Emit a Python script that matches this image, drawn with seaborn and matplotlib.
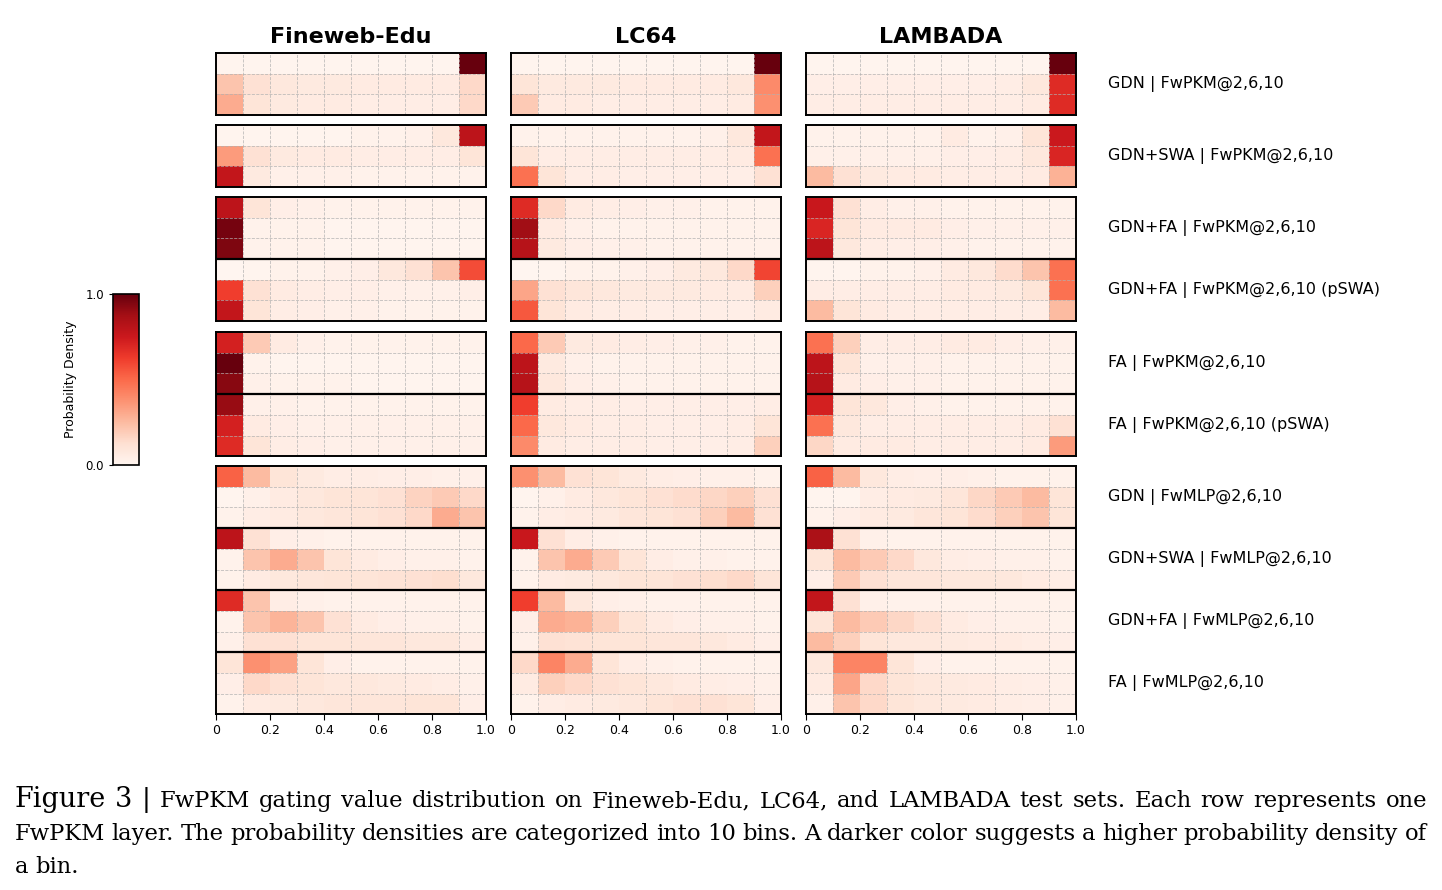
import numpy as np
import pandas as pd
import seaborn as sns
import matplotlib as mpl
import matplotlib.pyplot as plt

datasets = ['Fineweb-Edu', 'LC64', 'LAMBADA']
bin_ticks = ['0', '0.2', '0.4', '0.6', '0.8', '1.0']
layers = ['L2', 'L6', 'L10']
group_labels = [
    'GDN | FwPKM@2,6,10',
    'GDN+SWA | FwPKM@2,6,10',
    'GDN+FA | FwPKM@2,6,10',
    'GDN+FA | FwPKM@2,6,10 (pSWA)',
    'FA | FwPKM@2,6,10',
    'FA | FwPKM@2,6,10 (pSWA)',
    'GDN | FwMLP@2,6,10',
    'GDN+SWA | FwMLP@2,6,10',
    'GDN+FA | FwMLP@2,6,10',
    'FA | FwMLP@2,6,10',
]
# which groups share one panel
blocks = [[0], [1], [2, 3], [4, 5], [6, 7, 8, 9]]

# probability density per bin, 3 rows (layers 2, 6, 10) per group
fineweb = [
    # GDN | FwPKM
    [0.01, 0.01, 0.01, 0.01, 0.01, 0.01, 0.01, 0.01, 0.01, 1.00],
    [0.22, 0.12, 0.08, 0.07, 0.07, 0.06, 0.06, 0.06, 0.06, 0.15],
    [0.30, 0.10, 0.07, 0.06, 0.06, 0.05, 0.05, 0.05, 0.05, 0.15],
    # GDN+SWA | FwPKM
    [0.01, 0.01, 0.01, 0.01, 0.01, 0.02, 0.02, 0.03, 0.08, 0.80],
    [0.35, 0.12, 0.07, 0.06, 0.06, 0.05, 0.05, 0.05, 0.05, 0.10],
    [0.78, 0.07, 0.03, 0.03, 0.03, 0.02, 0.02, 0.02, 0.02, 0.02],
    # GDN+FA | FwPKM
    [0.80, 0.10, 0.04, 0.03, 0.02, 0.02, 0.02, 0.02, 0.02, 0.02],
    [0.97, 0.02, 0.02, 0.02, 0.01, 0.01, 0.01, 0.01, 0.01, 0.01],
    [0.95, 0.02, 0.02, 0.02, 0.01, 0.01, 0.01, 0.01, 0.01, 0.01],
    # GDN+FA | FwPKM (pSWA)
    [0.00, 0.01, 0.02, 0.02, 0.03, 0.04, 0.08, 0.12, 0.22, 0.58],
    [0.62, 0.12, 0.06, 0.05, 0.04, 0.04, 0.03, 0.03, 0.03, 0.04],
    [0.78, 0.10, 0.05, 0.04, 0.03, 0.03, 0.02, 0.02, 0.02, 0.02],
    # FA | FwPKM
    [0.72, 0.20, 0.06, 0.03, 0.02, 0.02, 0.02, 0.02, 0.02, 0.02],
    [1.00, 0.02, 0.01, 0.01, 0.01, 0.01, 0.01, 0.01, 0.01, 0.01],
    [0.93, 0.03, 0.02, 0.02, 0.02, 0.01, 0.01, 0.01, 0.01, 0.01],
    # FA | FwPKM (pSWA)
    [0.90, 0.03, 0.03, 0.02, 0.02, 0.02, 0.02, 0.02, 0.02, 0.02],
    [0.72, 0.06, 0.04, 0.03, 0.03, 0.03, 0.03, 0.03, 0.03, 0.03],
    [0.68, 0.10, 0.05, 0.04, 0.03, 0.03, 0.03, 0.03, 0.03, 0.03],
    # GDN | FwMLP
    [0.52, 0.25, 0.10, 0.07, 0.05, 0.05, 0.04, 0.04, 0.03, 0.03],
    [0.01, 0.03, 0.06, 0.08, 0.10, 0.10, 0.12, 0.17, 0.20, 0.15],
    [0.02, 0.05, 0.06, 0.08, 0.09, 0.10, 0.12, 0.15, 0.30, 0.22],
    # GDN+SWA | FwMLP
    [0.80, 0.12, 0.04, 0.03, 0.02, 0.02, 0.02, 0.02, 0.02, 0.02],
    [0.02, 0.22, 0.30, 0.22, 0.10, 0.06, 0.04, 0.03, 0.03, 0.02],
    [0.02, 0.06, 0.08, 0.09, 0.10, 0.10, 0.11, 0.12, 0.13, 0.08],
    # GDN+FA | FwMLP
    [0.68, 0.22, 0.05, 0.03, 0.02, 0.02, 0.02, 0.02, 0.02, 0.02],
    [0.02, 0.22, 0.27, 0.22, 0.12, 0.06, 0.04, 0.03, 0.03, 0.02],
    [0.03, 0.12, 0.12, 0.10, 0.10, 0.09, 0.09, 0.08, 0.08, 0.05],
    # FA | FwMLP
    [0.10, 0.38, 0.33, 0.10, 0.04, 0.02, 0.02, 0.02, 0.02, 0.02],
    [0.04, 0.15, 0.12, 0.10, 0.08, 0.08, 0.07, 0.06, 0.05, 0.03],
    [0.02, 0.06, 0.07, 0.08, 0.09, 0.09, 0.09, 0.10, 0.10, 0.04],
]

lc64 = [
    [0.01, 0.01, 0.01, 0.01, 0.01, 0.01, 0.01, 0.01, 0.01, 1.00],
    [0.10, 0.07, 0.07, 0.07, 0.06, 0.06, 0.06, 0.06, 0.08, 0.40],
    [0.20, 0.06, 0.06, 0.05, 0.05, 0.05, 0.05, 0.05, 0.06, 0.38],
    [0.02, 0.02, 0.02, 0.02, 0.02, 0.02, 0.02, 0.03, 0.08, 0.78],
    [0.10, 0.05, 0.05, 0.05, 0.05, 0.05, 0.05, 0.05, 0.06, 0.48],
    [0.48, 0.10, 0.05, 0.05, 0.04, 0.04, 0.04, 0.04, 0.04, 0.12],
    [0.68, 0.15, 0.06, 0.05, 0.04, 0.03, 0.03, 0.02, 0.02, 0.02],
    [0.88, 0.06, 0.03, 0.02, 0.02, 0.02, 0.02, 0.02, 0.02, 0.02],
    [0.82, 0.07, 0.04, 0.03, 0.03, 0.02, 0.02, 0.02, 0.02, 0.02],
    [0.00, 0.01, 0.02, 0.02, 0.03, 0.04, 0.07, 0.08, 0.15, 0.60],
    [0.32, 0.12, 0.09, 0.08, 0.07, 0.07, 0.07, 0.06, 0.06, 0.18],
    [0.55, 0.10, 0.06, 0.05, 0.05, 0.04, 0.04, 0.04, 0.04, 0.06],
    [0.50, 0.20, 0.07, 0.06, 0.05, 0.04, 0.03, 0.03, 0.02, 0.02],
    [0.80, 0.07, 0.03, 0.02, 0.02, 0.02, 0.02, 0.02, 0.02, 0.02],
    [0.82, 0.08, 0.04, 0.03, 0.02, 0.02, 0.02, 0.02, 0.02, 0.02],
    [0.62, 0.06, 0.05, 0.05, 0.04, 0.04, 0.04, 0.04, 0.04, 0.05],
    [0.50, 0.08, 0.06, 0.05, 0.05, 0.04, 0.04, 0.04, 0.05, 0.10],
    [0.40, 0.06, 0.05, 0.05, 0.05, 0.04, 0.04, 0.04, 0.05, 0.18],
    [0.38, 0.25, 0.12, 0.10, 0.07, 0.05, 0.04, 0.03, 0.03, 0.02],
    [0.01, 0.03, 0.06, 0.08, 0.10, 0.12, 0.14, 0.16, 0.18, 0.12],
    [0.02, 0.05, 0.06, 0.07, 0.09, 0.10, 0.12, 0.18, 0.25, 0.12],
    [0.76, 0.12, 0.05, 0.03, 0.02, 0.02, 0.02, 0.02, 0.02, 0.02],
    [0.02, 0.22, 0.30, 0.20, 0.10, 0.05, 0.03, 0.03, 0.02, 0.02],
    [0.02, 0.06, 0.07, 0.08, 0.10, 0.10, 0.12, 0.13, 0.15, 0.10],
    [0.62, 0.25, 0.08, 0.04, 0.03, 0.02, 0.02, 0.02, 0.02, 0.02],
    [0.04, 0.30, 0.28, 0.18, 0.10, 0.06, 0.04, 0.03, 0.03, 0.02],
    [0.03, 0.12, 0.11, 0.10, 0.10, 0.09, 0.09, 0.08, 0.06, 0.04],
    [0.15, 0.42, 0.30, 0.10, 0.05, 0.03, 0.02, 0.02, 0.02, 0.02],
    [0.06, 0.18, 0.15, 0.12, 0.10, 0.08, 0.06, 0.05, 0.04, 0.03],
    [0.02, 0.05, 0.06, 0.07, 0.08, 0.10, 0.12, 0.12, 0.10, 0.04],
]

lambada = [
    [0.01, 0.01, 0.01, 0.01, 0.01, 0.01, 0.01, 0.01, 0.01, 1.00],
    [0.04, 0.04, 0.04, 0.04, 0.04, 0.04, 0.04, 0.05, 0.08, 0.68],
    [0.05, 0.05, 0.05, 0.05, 0.05, 0.05, 0.05, 0.05, 0.06, 0.68],
    [0.02, 0.02, 0.02, 0.02, 0.02, 0.06, 0.02, 0.03, 0.10, 0.75],
    [0.03, 0.03, 0.03, 0.03, 0.03, 0.04, 0.04, 0.05, 0.08, 0.70],
    [0.25, 0.12, 0.07, 0.06, 0.06, 0.05, 0.05, 0.05, 0.06, 0.28],
    [0.76, 0.12, 0.05, 0.03, 0.03, 0.02, 0.02, 0.02, 0.02, 0.02],
    [0.70, 0.10, 0.06, 0.06, 0.06, 0.04, 0.03, 0.03, 0.03, 0.03],
    [0.80, 0.08, 0.05, 0.04, 0.04, 0.03, 0.02, 0.02, 0.02, 0.02],
    [0.01, 0.01, 0.02, 0.02, 0.03, 0.06, 0.08, 0.14, 0.22, 0.48],
    [0.05, 0.05, 0.05, 0.05, 0.05, 0.06, 0.06, 0.07, 0.10, 0.48],
    [0.25, 0.10, 0.06, 0.05, 0.05, 0.05, 0.05, 0.05, 0.05, 0.25],
    [0.48, 0.18, 0.05, 0.05, 0.05, 0.06, 0.06, 0.04, 0.03, 0.03],
    [0.80, 0.10, 0.03, 0.03, 0.03, 0.02, 0.02, 0.02, 0.02, 0.02],
    [0.82, 0.06, 0.04, 0.03, 0.03, 0.02, 0.02, 0.02, 0.02, 0.02],
    [0.72, 0.10, 0.08, 0.04, 0.03, 0.02, 0.02, 0.02, 0.02, 0.02],
    [0.48, 0.08, 0.05, 0.05, 0.05, 0.05, 0.05, 0.05, 0.06, 0.12],
    [0.16, 0.06, 0.06, 0.06, 0.05, 0.05, 0.05, 0.05, 0.06, 0.35],
    [0.52, 0.25, 0.08, 0.05, 0.04, 0.04, 0.03, 0.02, 0.02, 0.02],
    [0.01, 0.01, 0.05, 0.06, 0.07, 0.09, 0.16, 0.20, 0.25, 0.10],
    [0.02, 0.04, 0.06, 0.07, 0.09, 0.10, 0.14, 0.18, 0.22, 0.10],
    [0.85, 0.12, 0.03, 0.02, 0.02, 0.02, 0.02, 0.02, 0.02, 0.02],
    [0.10, 0.25, 0.20, 0.15, 0.08, 0.05, 0.04, 0.03, 0.03, 0.02],
    [0.04, 0.20, 0.12, 0.09, 0.09, 0.08, 0.08, 0.08, 0.06, 0.05],
    [0.78, 0.12, 0.03, 0.02, 0.02, 0.02, 0.02, 0.02, 0.02, 0.02],
    [0.10, 0.25, 0.20, 0.16, 0.12, 0.06, 0.04, 0.03, 0.03, 0.02],
    [0.25, 0.18, 0.10, 0.08, 0.08, 0.07, 0.06, 0.06, 0.05, 0.04],
    [0.08, 0.42, 0.42, 0.10, 0.04, 0.02, 0.02, 0.02, 0.02, 0.02],
    [0.06, 0.32, 0.15, 0.10, 0.08, 0.07, 0.06, 0.05, 0.04, 0.03],
    [0.03, 0.22, 0.15, 0.10, 0.08, 0.07, 0.06, 0.05, 0.04, 0.03],
]

caption = [
    'FwPKM gating value distribution on Fineweb-Edu, LC64, and LAMBADA test sets. Each row represents one',
    'FwPKM layer. The probability densities are categorized into 10 bins. A darker color suggests a higher probability density of',
    'a bin.',
]

W, H = 1442, 890
fig = plt.figure(figsize=(W / 100, H / 100), dpi=100)


def box(x, y, w, h):
    # pixel box (from top-left) -> figure fraction
    return [x / W, 1 - (y + h) / H, w / W, h / H]


col_x = [216, 511, 806]
col_w = 270
row_h = 20.7
block_top = [53, 125, 197, 332, 466]
all_data = [fineweb, lc64, lambada]

for c, (name, vals) in enumerate(zip(datasets, all_data)):
    arr = np.array(vals)
    for b, groups in enumerate(blocks):
        rows = [g * 3 + k for g in groups for k in range(3)]
        df = pd.DataFrame(arr[rows], columns=range(10))
        ax = fig.add_axes(box(col_x[c], block_top[b], col_w, len(rows) * row_h))
        sns.heatmap(df, ax=ax, cmap='Reds', vmin=0, vmax=1, cbar=False)
        ax.set_xticks(np.arange(1, 10), minor=True)
        ax.set_yticks(np.arange(1, len(rows)), minor=True)
        ax.grid(which='minor', ls='--', color='#b0b0b0', lw=0.6, alpha=0.8)
        ax.set_axisbelow(False)
        ax.tick_params(which='minor', length=0)
        ax.set_yticks([])
        for g in range(1, len(groups)):
            ax.axhline(g * 3, color='black', lw=1.6, zorder=4)
        for s in ax.spines.values():
            s.set_visible(True)
            s.set_color('black')
            s.set_linewidth(1.4)
            s.set_zorder(4)
        if b == len(blocks) - 1:
            ax.set_xticks(np.arange(0, 11, 2))
            ax.set_xticklabels(bin_ticks, rotation=0, fontsize=9)
            ax.tick_params(axis='x', which='major', length=4, pad=3)
        else:
            ax.set_xticks([])
        ax.set_xlabel('')
        ax.set_ylabel('')
        if b == 0:
            ax.set_title(name, fontsize=16, fontweight='bold', pad=7)

# group labels on the right
for g, lab in enumerate(group_labels):
    b = next(i for i, gr in enumerate(blocks) if g in gr)
    yc = block_top[b] + (blocks[b].index(g) * 3 + 1.5) * row_h
    fig.text(1108 / W, 1 - yc / H, lab, fontsize=11.5, va='center', ha='left')

# colorbar
cax = fig.add_axes(box(113, 294, 26, 171))
sm = mpl.cm.ScalarMappable(norm=mpl.colors.Normalize(0, 1), cmap='Reds')
cb = fig.colorbar(sm, cax=cax, ticks=[0, 1], format='%.1f')
cax.yaxis.set_ticks_position('left')
cax.yaxis.set_label_position('left')
cax.tick_params(labelsize=8.5, length=3)
cb.set_label('Probability Density', fontsize=9, labelpad=6)
cb.outline.set_edgecolor('black')
cb.outline.set_linewidth(1.2)

# caption, justified by hand
serif = ['DejaVu Serif']
renderer = fig.canvas.get_renderer()


def justify(words, x0, x1, y, size, justify_line=True):
    items = [fig.text(0, 1 - y / H, w, fontsize=s, family=serif, va='baseline')
             for w, s in words]
    widths = [t.get_window_extent(renderer).width for t in items]
    space = size * 100 / 72 * 0.3
    if justify_line and len(items) > 1:
        space = (x1 - x0 - sum(widths)) / (len(items) - 1)
    x = x0
    for t, w in zip(items, widths):
        t.set_x(x / W)
        x += w + space


cap_size = 16.3
line1 = [('Figure', 19.5), ('3', 19.5), ('|', 19)] + [(w, cap_size) for w in caption[0].split()]
justify(line1, 15, 1427, 807, cap_size)
justify([(w, cap_size) for w in caption[1].split()], 15, 1427, 840, cap_size)
justify([(w, cap_size) for w in caption[2].split()], 15, 1427, 873, cap_size, justify_line=False)

fig.savefig('out.png', dpi=100)
